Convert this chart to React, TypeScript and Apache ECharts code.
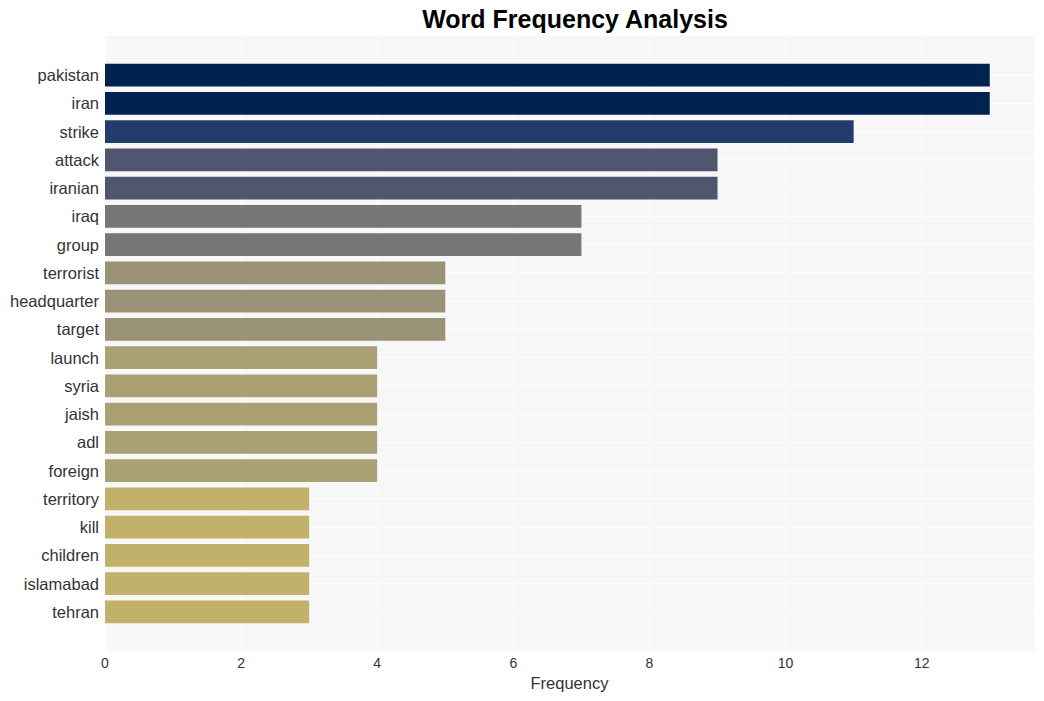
import React, { useEffect, useRef } from "react";
import * as echarts from "echarts";

const words = [
  "pakistan", "iran", "strike", "attack", "iranian", "iraq", "group", "terrorist",
  "headquarter", "target", "launch", "syria", "jaish", "adl", "foreign",
  "territory", "kill", "children", "islamabad", "tehran",
];
const counts = [13, 13, 11, 9, 9, 7, 7, 5, 5, 5, 4, 4, 4, 4, 4, 3, 3, 3, 3, 3];
const xTicks = [0, 2, 4, 6, 8, 10, 12];

// colour for each frequency level
const palette: Record<number, string> = {
  13: "#00224e",
  11: "#243c6c",
  9: "#51566f",
  7: "#767676",
  5: "#999276",
  4: "#aaa073",
  3: "#c1b16a",
};

const X_MAX = 13.65;
const FONT = "'Liberation Sans', Arial, sans-serif";

export default function App() {
  const ref = useRef<HTMLDivElement>(null);
  useEffect(() => {
    document.body.style.margin = "0";
    const chart = echarts.init(ref.current!, undefined, { renderer: "svg" });
    chart.setOption({
      animation: false,
      backgroundColor: "#ffffff",
      title: {
        text: "Word Frequency Analysis",
        left: 570,
        top: 1,
        textAlign: "center",
        textStyle: { fontFamily: FONT, fontWeight: "bold", fontSize: 25, color: "#000000" },
      },
      grid: [
        { left: 105, right: 10, top: 36, bottom: 50, show: true, backgroundColor: "#f7f7f7", borderWidth: 0 },
        { left: 105, right: 10, top: 61, bottom: 75 },
      ],
      xAxis: [
        {
          type: "value",
          gridIndex: 0,
          min: 0,
          max: X_MAX,
          interval: 2,
          name: "Frequency",
          nameLocation: "middle",
          nameGap: 23,
          nameTextStyle: { fontFamily: FONT, fontSize: 16.5, color: "#333333" },
          axisLine: { show: false },
          axisTick: { show: false },
          axisLabel: {
            margin: 5,
            fontFamily: FONT,
            fontSize: 14,
            color: "#333333",
            formatter: (v: number) => (xTicks.includes(v) ? String(v) : ""),
            showMaxLabel: false,
          },
          splitLine: { show: true, lineStyle: { color: "#ffffff", width: 1 } },
        },
        { type: "value", gridIndex: 1, min: 0, max: X_MAX, show: false },
      ],
      yAxis: [
        { type: "value", gridIndex: 0, show: false, min: 0, max: 1, splitLine: { show: false } },
        {
          type: "category",
          gridIndex: 1,
          data: words,
          inverse: true,
          axisLine: { show: false },
          axisTick: { show: false },
          splitLine: { show: false },
          axisLabel: { margin: 6, fontFamily: FONT, fontSize: 16.5, color: "#333333" },
        },
      ],
      series: [
        {
          type: "custom",
          xAxisIndex: 1,
          yAxisIndex: 1,
          z: 1,
          silent: true,
          data: words.map((w, i) => [0, i]),
          renderItem: (params: any, api: any) => {
            const p = api.coord([0, api.value(1)]);
            const cs = params.coordSys;
            return {
              type: "line",
              shape: { x1: cs.x, y1: p[1], x2: cs.x + cs.width, y2: p[1] },
              style: { stroke: "#ffffff", lineWidth: 1 },
            };
          },
        },
        {
          type: "bar",
          xAxisIndex: 1,
          yAxisIndex: 1,
          z: 2,
          barWidth: "80%",
          data: counts.map((c) => ({ value: c, itemStyle: { color: palette[c] } })),
        },
      ],
    });
    return () => chart.dispose();
  }, []);
  return <div ref={ref} style={{ width: 1044, height: 701 }} />;
}
